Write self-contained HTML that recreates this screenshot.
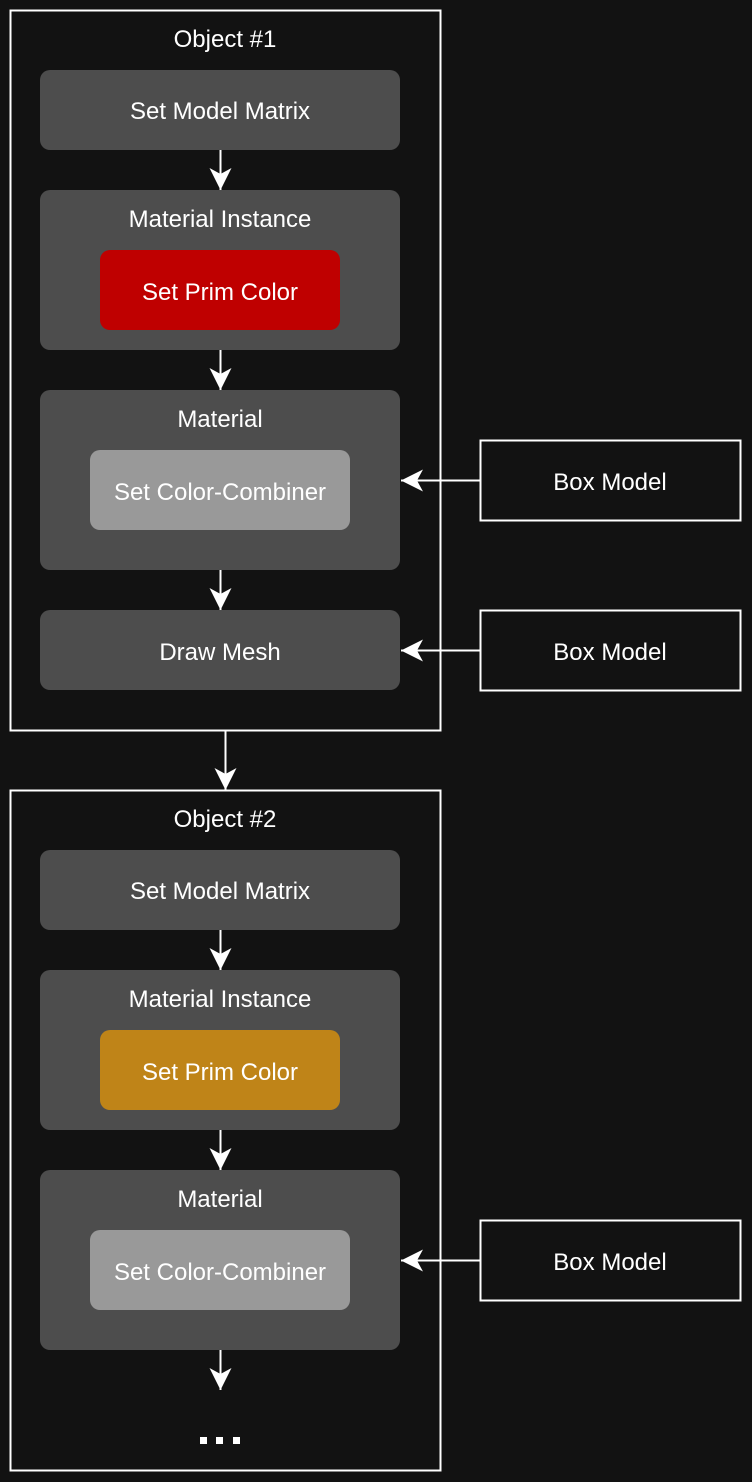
<!DOCTYPE html>
<html><head><style>body{margin:0;background:#121212}svg{display:block}text{font-family:"Liberation Sans",sans-serif;font-size:24px;fill:#fff;text-anchor:middle}</style></head><body>
<svg width="752" height="1482" viewBox="0 0 752 1482" xmlns="http://www.w3.org/2000/svg">
<defs><marker id="a" markerWidth="24" markerHeight="24" refX="22" refY="11" orient="auto" markerUnits="userSpaceOnUse"><path d="M0,0 L22,11 L0,22 L6,11 Z" fill="#fff"/></marker></defs>
<rect width="752" height="1482" fill="#121212"/>
<g fill="none" stroke="#fff" stroke-width="2">
<rect x="10.5" y="10.5" width="430" height="720"/>
<rect x="10.5" y="790.5" width="430" height="680"/>
<rect x="480.5" y="440.5" width="260" height="80"/>
<rect x="480.5" y="610.5" width="260" height="80"/>
<rect x="480.5" y="1220.5" width="260" height="80"/>
</g>
<g fill="#4d4d4d">
<rect x="40" y="70" width="360" height="80" rx="10"/>
<rect x="40" y="190" width="360" height="160" rx="10"/>
<rect x="40" y="390" width="360" height="180" rx="10"/>
<rect x="40" y="610" width="360" height="80" rx="10"/>
<rect x="40" y="850" width="360" height="80" rx="10"/>
<rect x="40" y="970" width="360" height="160" rx="10"/>
<rect x="40" y="1170" width="360" height="180" rx="10"/>
</g>
<rect x="100" y="250" width="240" height="80" rx="10" fill="#bf0000"/>
<rect x="100" y="1030" width="240" height="80" rx="10" fill="#bf8418"/>
<rect x="90" y="450" width="260" height="80" rx="10" fill="#999"/>
<rect x="90" y="1230" width="260" height="80" rx="10" fill="#999"/>
<g stroke="#fff" stroke-width="2" marker-end="url(#a)">
<line x1="220.5" y1="150" x2="220.5" y2="190"/>
<line x1="220.5" y1="350" x2="220.5" y2="390"/>
<line x1="220.5" y1="570" x2="220.5" y2="610"/>
<line x1="225.5" y1="731" x2="225.5" y2="790"/>
<line x1="220.5" y1="930" x2="220.5" y2="970"/>
<line x1="220.5" y1="1130" x2="220.5" y2="1170"/>
<line x1="220.5" y1="1350" x2="220.5" y2="1390"/>
<line x1="480" y1="480.5" x2="401" y2="480.5"/>
<line x1="480" y1="650.5" x2="401" y2="650.5"/>
<line x1="480" y1="1260.5" x2="401" y2="1260.5"/>
</g>
<text x="225" y="47">Object #1</text>
<text x="220" y="119">Set Model Matrix</text>
<text x="220" y="227">Material Instance</text>
<text x="220" y="300">Set Prim Color</text>
<text x="220" y="427">Material</text>
<text x="220" y="500">Set Color-Combiner</text>
<text x="220" y="660">Draw Mesh</text>
<text x="225" y="827">Object #2</text>
<text x="220" y="899">Set Model Matrix</text>
<text x="220" y="1007">Material Instance</text>
<text x="220" y="1080">Set Prim Color</text>
<text x="220" y="1207">Material</text>
<text x="220" y="1280">Set Color-Combiner</text>
<text x="610" y="490">Box Model</text>
<text x="610" y="660">Box Model</text>
<text x="610" y="1270">Box Model</text>
<g fill="#fff"><rect x="200" y="1437" width="7" height="7"/><rect x="216" y="1437" width="7" height="7"/><rect x="233" y="1437" width="7" height="7"/></g>
</svg>
</body></html>
